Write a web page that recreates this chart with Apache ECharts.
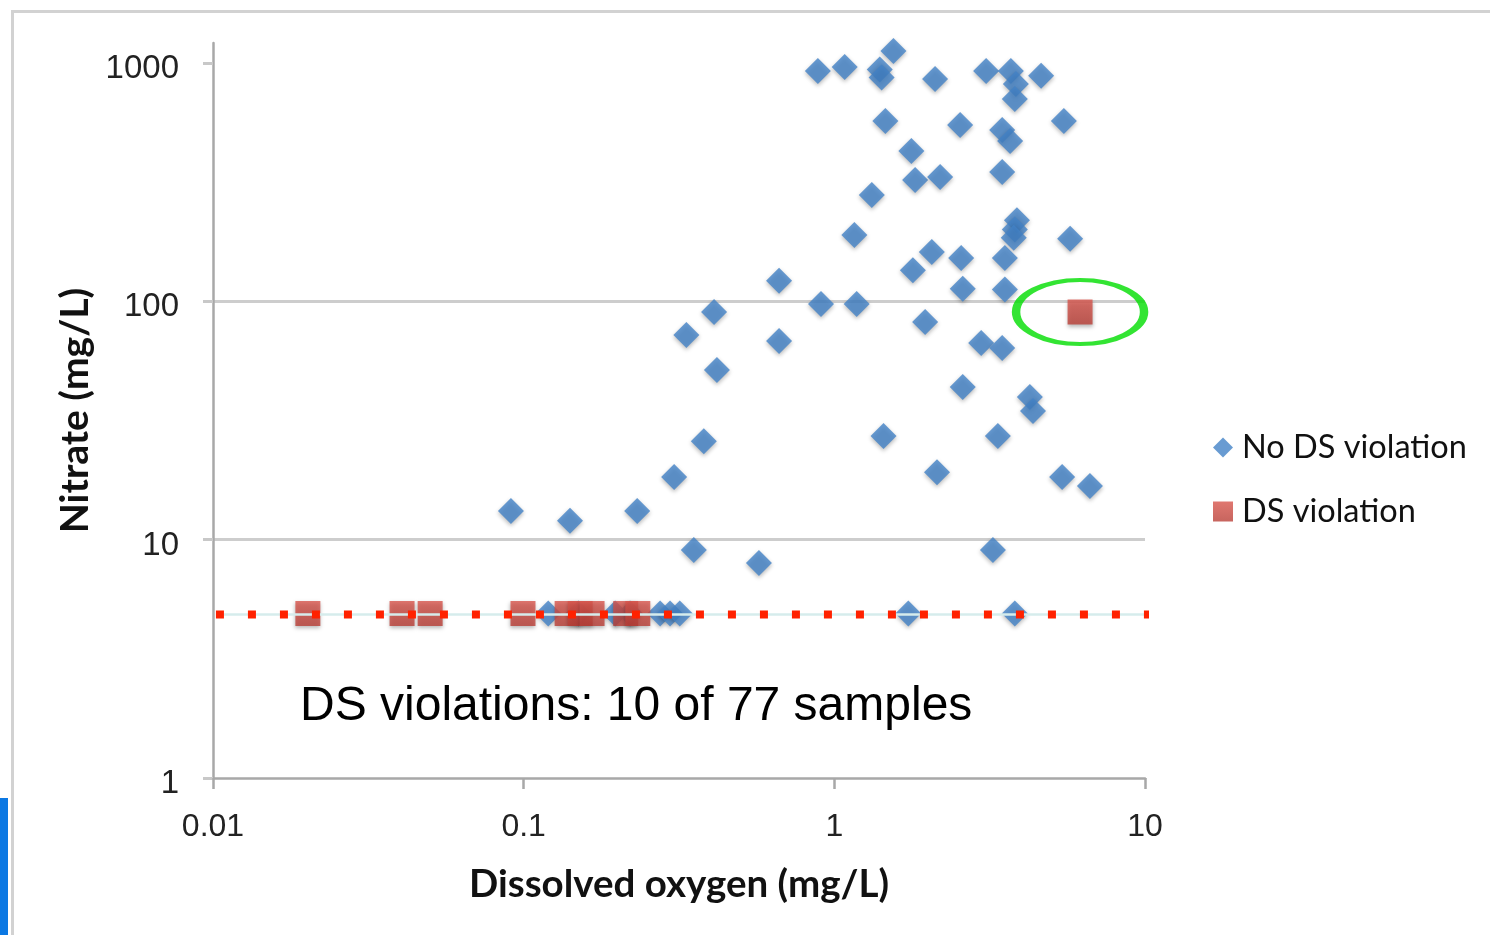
<!DOCTYPE html>
<html>
<head>
<meta charset="utf-8">
<script src="https://cdn.jsdelivr.net/npm/echarts@6/dist/echarts.min.js"></script>
<style>
html,body{margin:0;padding:0;background:#fff;}
#chart{width:1490px;height:935px;}
</style>
</head>
<body>
<div id="chart"></div>
<script>
// ---- data ----
const blueDO = [0.885,1.08,1.55,1.40,1.42,2.11,3.08,3.70,3.84,3.81,4.63,5.48,1.46,2.54,3.47,3.68,1.77,1.82,2.19,3.47,1.32,1.16,3.87,3.81,3.78,5.74,2.06,2.56,3.54,1.79,0.664,2.59,3.54,0.906,1.18,0.410,0.334,1.96,0.664,2.97,3.47,0.419,2.59,4.26,4.36,1.44,3.36,0.380,2.14,0.305,5.41,6.65,0.091,0.141,0.232,0.353,0.572,3.24,1.73,3.81,0.120,0.197,0.275,0.296,0.318,0.150,0.220];
const blueNitrate = [926,962,1123,940,870,857,926,926,816,706,883,571,571,549,524,471,427,323,332,349,279,190,219,200,185,183,161,152,152,135,122,113,112,97.5,97.5,90.2,72.2,81.9,68.2,66.9,63.7,51.5,43.7,39.7,34.7,27.2,27.2,25.9,19.2,18.3,18.3,16.8,13.2,12.0,13.2,9.05,7.98,9.05,4.9,4.9,4.9,4.9,4.9,4.9,4.9,4.9,4.9];
const redDO = [0.0202,0.0406,0.0500,0.0995,0.138,0.152,0.166,0.213,0.233,6.18];
const redNitrate = [4.9,4.9,4.9,4.9,4.9,4.9,4.9,4.9,4.9,90.2];
const highlightDO = [6.18];
const highlightNitrate = [90.2];
const limitDO = [0.01022, 11.2];
const limitNitrate = [4.85, 4.85];
const xTicks = [0.01, 0.1, 1, 10];
const yTicks = [1, 10, 100, 1000];
const xTitle = 'Dissolved oxygen (mg/L)';
const yTitle = 'Nitrate (mg/L)';
const seriesNames = ['No DS violation', 'DS violation'];
const note = 'DS violations: 10 of 77 samples';

const zip = (a, b) => a.map((v, i) => [v, b[i]]);

const chart = echarts.init(document.getElementById('chart'), null, {renderer: 'canvas'});
const labelFont = 'Liberation Sans';
const titleFont = 'Lato';

chart.setOption({
  animation: false,
  backgroundColor: '#ffffff',
  grid: {left: 213, right: 345, top: 43, bottom: 157, containLabel: false},
  xAxis: {
    type: 'log', logBase: 10, min: 0.01, max: 10,
    name: xTitle, nameLocation: 'middle', nameGap: 87,
    nameTextStyle: {fontFamily: titleFont, fontWeight: 'bold', fontSize: 38.5, color: '#111'},
    axisLine: {show: true, lineStyle: {color: '#a8a8a8', width: 2.5}},
    axisTick: {show: true, length: 11, inside: false, lineStyle: {color: '#a8a8a8', width: 2.5}},
    axisLabel: {margin: 33, fontFamily: labelFont, fontSize: 32, color: '#222',
      customValues: xTicks,
      formatter: v => String(+v.toPrecision(3))},
    splitLine: {show: false},
    minorTick: {show: false}
  },
  yAxis: {
    type: 'log', logBase: 10, min: 1, max: 1213,
    name: yTitle, nameLocation: 'middle', nameGap: 116, nameRotate: 90,
    nameTextStyle: {fontFamily: titleFont, fontWeight: 'bold', fontSize: 39, color: '#111'},
    axisLine: {show: true, lineStyle: {color: '#a8a8a8', width: 2.5}},
    axisTick: {show: true, length: 10, inside: false, customValues: yTicks, lineStyle: {color: '#c8c8c8', width: 3}},
    axisLabel: {margin: 34, fontFamily: labelFont, fontSize: 33, color: '#222',
      customValues: yTicks,
      formatter: v => '{t|' + String(Math.round(v)) + '}',
      rich: {t: {fontFamily: labelFont, fontSize: 33, color: '#222', padding: [12, 0, 0, 0]}}},
    splitLine: {show: true, showMaxLine: false, showMinLine: false, lineStyle: {color: '#cdcdcd', width: 3}}
  },
  legend: {
    orient: 'vertical', left: 1208, top: 426, itemGap: 31,
    itemWidth: 20, itemHeight: 20, data: seriesNames,
    textStyle: {fontFamily: titleFont, fontSize: 32.5, color: '#111', padding: [0, 0, 0, 4]}
  },
  series: [
    {
      name: seriesNames[0], type: 'scatter', symbol: 'diamond', symbolSize: 26, clip: false,
      data: zip(blueDO, blueNitrate), z: 2,
      itemStyle: {color: '#4282c7', shadowBlur: 4, shadowColor: 'rgba(0,0,0,0.35)', shadowOffsetY: 2}
    },
    {
      name: seriesNames[1], type: 'scatter', symbol: 'rect', symbolSize: 25, clip: false,
      data: zip(redDO, redNitrate), z: 3,
      itemStyle: {
        color: new echarts.graphic.LinearGradient(0, 0, 0, 1, [{offset: 0, color: '#d8554c'}, {offset: 1, color: '#b93e36'}]),
        shadowBlur: 4, shadowColor: 'rgba(0,0,0,0.35)', shadowOffsetY: 2
      }
    },
    {
      name: 'limitBase', type: 'line', data: zip(limitDO, limitNitrate), clip: false, z: 4,
      symbol: 'none', silent: true,
      lineStyle: {color: '#d6ecec', width: 2.5}
    },
    {
      name: 'limit', type: 'line', data: zip(limitDO, limitNitrate), clip: false, z: 5,
      symbol: 'none', silent: true,
      lineStyle: {color: '#ff2200', width: 8, type: [8, 24], cap: 'butt'}
    },
    {
      name: 'highlight', type: 'scatter', symbol: 'circle', symbolSize: [128, 64], clip: false, z: 6,
      data: zip(highlightDO, highlightNitrate), silent: true,
      itemStyle: {color: 'rgba(0,0,0,0)', borderColor: '#00dd00', borderWidth: 6}
    }
  ],
  graphic: [
    {type: 'rect', left: 10, top: 9, shape: {width: 1520, height: 960},
      style: {fill: 'none', stroke: '#d2d2d2', lineWidth: 3}, z: -1},
    {type: 'rect', left: 0, top: 798, shape: {width: 8, height: 140},
      style: {fill: '#0b78e3'}, z: -1},
    {type: 'text', left: 300, top: 683,
      style: {text: note, font: '48px "Liberation Sans"', fill: '#000'}}
  ]
});
</script>
</body>
</html>
